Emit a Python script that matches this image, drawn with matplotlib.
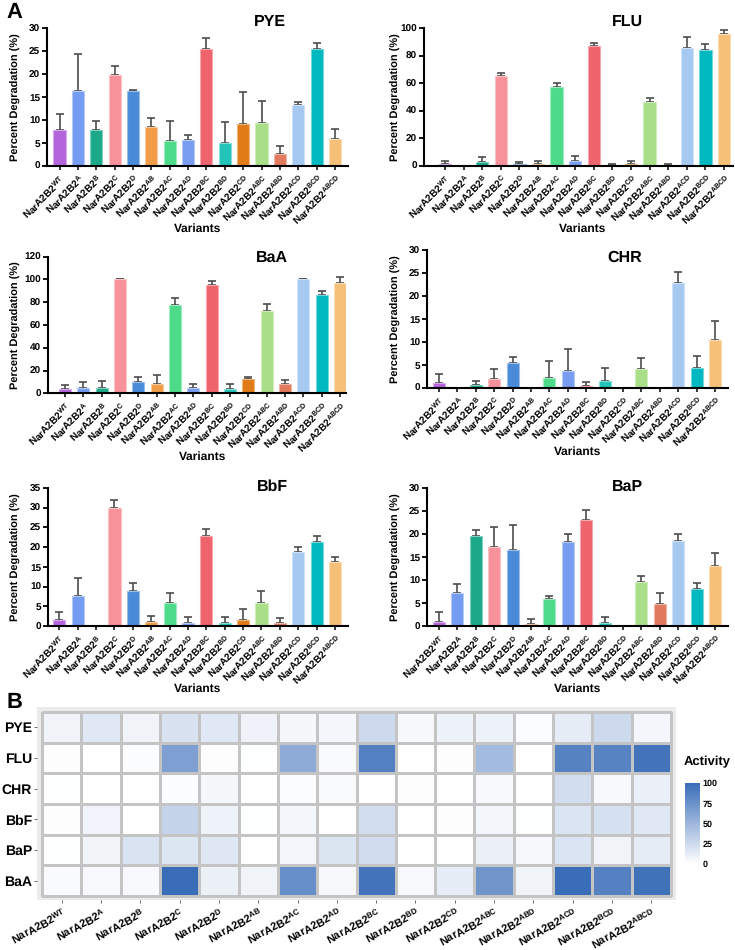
import numpy as np
import matplotlib
matplotlib.use('Agg')
import matplotlib.pyplot as plt
from matplotlib.colors import LinearSegmentedColormap, to_rgb

plt.rcParams['font.family'] = ['Liberation Sans', 'DejaVu Sans']
plt.rcParams['font.weight'] = 'bold'
plt.rcParams['mathtext.fontset'] = 'custom'
plt.rcParams['mathtext.rm'] = 'Liberation Sans:bold'
plt.rcParams['mathtext.bf'] = 'Liberation Sans:bold'
plt.rcParams['mathtext.it'] = 'Liberation Sans:bold'
plt.rcParams['mathtext.default'] = 'rm'
plt.rcParams['text.hinting'] = 'no_hinting'
plt.rcParams['text.hinting_factor'] = 1

# ---------------- data ----------------
variants = ['WT', 'A', 'B', 'C', 'D', 'AB', 'AC', 'AD', 'BC', 'BD', 'CD',
            'ABC', 'ABD', 'ACD', 'BCD', 'ABCD']
tick_labels = [f'NarA2B2$^{{{v}}}$' for v in variants]

pye_mean = [7.9, 16.4, 7.9, 19.7, 16.3, 8.4, 5.4, 5.7, 25.5, 5.0, 9.0, 9.3, 2.6, 13.2, 25.5, 5.9]
pye_err = [3.3, 7.9, 1.8, 2.0, 0.3, 2.0, 4.4, 1.1, 2.4, 4.6, 7.0, 4.9, 1.7, 0.6, 1.2, 2.2]

flu_mean = [1.5, 0.0, 2.5, 65.5, 1.2, 1.0, 57.5, 3.5, 87.0, 0.3, 1.5, 46.5, 0.0, 85.5, 84.5, 96.0]
flu_err = [2.0, 0.0, 4.0, 2.0, 1.5, 2.5, 3.0, 3.5, 2.0, 0.8, 2.0, 2.5, 1.2, 8.0, 4.0, 2.5]

baa_mean = [3.5, 4.5, 4.5, 100.0, 10.0, 8.0, 77.5, 5.0, 95.0, 4.0, 12.5, 72.5, 8.0, 100.0, 86.0, 96.5]
baa_err = [4.0, 5.0, 6.0, 0.0, 4.5, 8.5, 6.5, 3.5, 4.0, 4.5, 2.0, 6.0, 4.0, 0.0, 4.0, 6.0]

chr_mean = [1.0, 0.0, 0.5, 2.0, 5.3, 0.0, 2.1, 3.7, 0.4, 1.5, 0.0, 4.1, 0.0, 22.8, 4.4, 10.5]
chr_err = [2.1, 0.0, 1.0, 2.1, 1.5, 0.0, 3.8, 4.7, 0.9, 2.7, 0.0, 2.4, 0.0, 2.5, 2.6, 4.0]

bbf_mean = [1.5, 7.6, 0.0, 30.0, 8.8, 1.1, 5.8, 0.7, 22.7, 0.7, 1.5, 5.9, 0.85, 18.8, 21.2, 16.2]
bbf_err = [2.0, 4.7, 0.0, 1.9, 2.0, 1.5, 2.6, 1.5, 1.9, 1.7, 2.9, 2.9, 1.15, 1.3, 1.7, 1.2]

bap_mean = [0.95, 7.1, 19.5, 17.3, 16.5, 0.45, 5.9, 18.2, 23.1, 0.7, 0.0, 9.6, 4.9, 18.5, 8.0, 13.0]
bap_err = [2.05, 2.1, 1.4, 4.3, 5.4, 1.05, 0.7, 1.9, 2.1, 1.3, 0.0, 1.4, 2.3, 1.6, 1.3, 3.0]

bar_colors = ['#b465dc', '#749cf0', '#1ba98a', '#f7929a', '#4a8bd9', '#f19d48',
              '#4ddb8a', '#789df0', '#ee636c', '#22c3b8', '#e17b17', '#a9df88',
              '#e1795d', '#a6c9f2', '#00b8bf', '#f6c078']

heat_rows = ['PYE', 'FLU', 'CHR', 'BbF', 'BaP', 'BaA']

W, H = 735, 950
fig = plt.figure(figsize=(W / 100, H / 100), dpi=100)


def rect(x0, y0, x1, y1):
    return [x0 / W, 1 - y1 / H, (x1 - x0) / W, (y1 - y0) / H]


def fx(x):
    return x / W


def fy(y):
    return 1 - y / H


def lighten(c, f=0.45):
    r = np.array(to_rgb(c))
    return tuple(r + (1 - r) * f)


# name, mean, err, ymax, step, axis box px, first/last bar px, title px, ylabel x px, xlabel px
panels = [
    ('PYE', pye_mean, pye_err, 30, 5, (47, 28.3, 348, 165.7), (59.5, 335), (270, 22), 16, (198, 229)),
    ('FLU', flu_mean, flu_err, 100, 20, (424, 28.3, 733, 165.7), (445, 724), (627, 22), 396, (583, 229)),
    ('BaA', baa_mean, baa_err, 120, 20, (48, 256.7, 346, 393.3), (65, 340), (272, 258), 16, (203, 457)),
    ('CHR', chr_mean, chr_err, 30, 5, (427, 250.4, 728, 387.7), (439, 715), (625, 258), 396, (578, 452)),
    ('BbF', bbf_mean, bbf_err, 35, 5, (48, 488, 348, 626), (59.3, 335), (272, 487), 16, (198, 689)),
    ('BaP', bap_mean, bap_err, 30, 5, (427, 488.3, 728, 626), (439, 715), (627, 487), 396, (578, 689)),
]

x = np.arange(len(variants))
for name, mean, err, ymax, step, box, fl, tpos, ylx, xlpos in panels:
    ax = fig.add_axes(rect(*box))
    sp = (fl[1] - fl[0]) / 15
    ax.set_xlim(-(fl[0] - box[0]) / sp, 15 + (box[2] - fl[1]) / sp)
    ax.set_ylim(0, ymax)
    ax.bar(x, mean, width=0.66, color=bar_colors,
           edgecolor=[lighten(c) for c in bar_colors], linewidth=0.8, zorder=2)
    ax.errorbar(x, mean, yerr=[np.zeros(len(err)), err], fmt='none',
                ecolor='#4d4d4d', elinewidth=1.2, capsize=2.6, capthick=1.2, zorder=1)
    ax.set_yticks(np.arange(0, ymax + 0.1, step))
    ax.set_xticks(x)
    ax.set_xticklabels(tick_labels, rotation=45, ha='right', rotation_mode='anchor',
                       fontsize=6.9, fontweight='bold')
    ax.tick_params(axis='y', labelsize=7.2, width=1.3, length=3.5, direction='out', pad=1.5)
    ax.tick_params(axis='x', width=1.1, length=3, direction='out', pad=2)
    for s in ['top', 'right']:
        ax.spines[s].set_visible(False)
    for s in ['left', 'bottom']:
        ax.spines[s].set_linewidth(1.5)
    for lab in ax.get_yticklabels():
        lab.set_fontweight('bold')
    ax.patch.set_alpha(0)
    fig.text(fx(tpos[0]), fy(tpos[1]), name, fontsize=11.5, fontweight='bold',
             ha='center', va='center')
    fig.text(fx(ylx), fy((box[1] + box[3]) / 2), 'Percent Degradation (%)', rotation=90,
             fontsize=7.6, fontweight='bold', ha='center', va='center')
    fig.text(fx(xlpos[0]), fy(xlpos[1]), 'Variants', fontsize=8.6, fontweight='bold',
             ha='center', va='center')

fig.text(fx(6), fy(12), 'A', fontsize=16, fontweight='bold', ha='left', va='center')
fig.text(fx(7), fy(702), 'B', fontsize=16, fontweight='bold', ha='left', va='center')

# ---------------- heatmap ----------------
data_map = {'PYE': pye_mean, 'FLU': flu_mean, 'CHR': chr_mean,
            'BbF': bbf_mean, 'BaP': bap_mean, 'BaA': baa_mean}
Z = np.array([data_map[r] for r in heat_rows])
cmap = LinearSegmentedColormap.from_list('act', ['#ffffff', '#3a6db8'])

hax = fig.add_axes(rect(37, 707, 676, 900))
hax.set_facecolor('#ebebeb')
mesh = hax.pcolormesh(np.arange(17) - 0.5, np.arange(7) - 0.5, Z, cmap=cmap, vmin=0, vmax=100,
                      edgecolors='#c4c4c4', linewidth=0.8)
hax.set_xlim(-0.5 - 5 / 39.3, 15.5 + 5 / 39.3)
hax.set_ylim(5.5 + 4 / 30.7, -0.5 - 5 / 30.7)
for s in hax.spines.values():
    s.set_visible(False)
hax.set_yticks(np.arange(6))
hax.set_yticklabels(heat_rows, fontsize=9.8, fontweight='bold')
hax.set_xticks(x)
hax.set_xticklabels(tick_labels, rotation=28, ha='right', va='top', rotation_mode='anchor',
                    fontsize=7.9, fontweight='bold')
hax.tick_params(axis='both', length=2.5, width=0.6, color='#555555', pad=1.2)

cax = fig.add_axes(rect(685, 783, 700, 864))
cb = fig.colorbar(mesh, cax=cax)
cb.outline.set_visible(False)
cb.set_ticks([0, 25, 50, 75, 100])
cb.ax.tick_params(length=0, labelsize=6.5, pad=2)
for lab in cb.ax.get_yticklabels():
    lab.set_fontweight('bold')
fig.text(fx(684), fy(762), 'Activity', fontsize=9.5, fontweight='bold', ha='left', va='center')

fig.savefig('out.png', dpi=100)
